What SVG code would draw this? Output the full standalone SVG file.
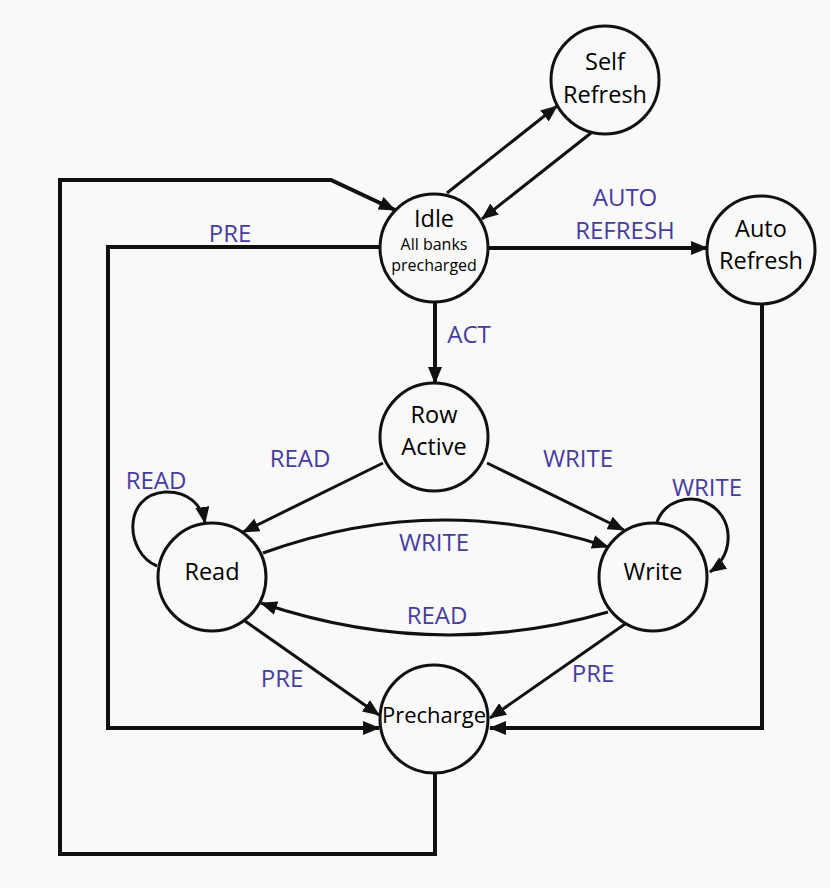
<svg xmlns="http://www.w3.org/2000/svg" width="830" height="888" viewBox="0 0 830 888">
<defs>
<marker id="ah" markerUnits="userSpaceOnUse" markerWidth="18" markerHeight="14" refX="16" refY="7" orient="auto">
<path d="M0,0 L17,7 L0,14 z" fill="#111"/>
</marker>
<style>
.bg{fill:#f9f9f9}
.node circle{fill:none;stroke:#111;stroke-width:3}
.nt{font-family:"Open Sans","Liberation Sans",sans-serif;font-size:23.5px;fill:#000;text-anchor:middle}
.st{font-family:"Open Sans","Liberation Sans",sans-serif;font-size:16px;fill:#000;text-anchor:middle}
.lb{font-family:"Open Sans","Liberation Sans",sans-serif;font-size:24px;fill:#463c9e;text-anchor:middle}
.e{fill:none;stroke:#111;stroke-width:3;marker-end:url(#ah)}
.o{fill:none;stroke:#111;stroke-width:4;stroke-linejoin:miter}
</style>
</defs>
<rect class="bg" width="830" height="888"/>
<g id="connectors">
<path class="e" d="M447,193 L557,106"/>
<path class="e" d="M591,133 L482,219"/>
<path class="o" style="marker-end:url(#ah)" d="M435,774 L435,854 L60,854 L60,180 L331,180 L395,210"/>
<path class="o" style="marker-end:url(#ah)" d="M380,247 L108,247 L108,728 L379,728"/>
<path class="o" style="marker-end:url(#ah)" d="M762,303 L762,728 L490,728"/>
<path class="o" style="marker-end:url(#ah)" d="M489,248 L707,248"/>
<path class="o" style="marker-end:url(#ah)" d="M435,302 L435,383"/>
<path class="e" d="M383,463 L243,532"/>
<path class="e" d="M487,463 L624,530"/>
<path class="e" d="M263,553 Q436,490 608,547"/>
<path class="e" d="M608,612 Q436,662 261,603"/>
<path class="e" d="M245,621 L379,715"/>
<path class="e" d="M625,624 L490,718"/>
<path class="e" d="M157,566 C125,553 122,495 165,492 C188,491 202,505 205,523"/>
<path class="e" d="M657,522 C665,500 690,495 705,502 C735,515 735,555 710,572"/>
</g>
<g id="labels">
<text class="lb" x="230" y="242">PRE</text>
<text class="lb" x="625" y="206">AUTO</text>
<text class="lb" x="625" y="239">REFRESH</text>
<text class="lb" x="469" y="343">ACT</text>
<text class="lb" x="300" y="467">READ</text>
<text class="lb" x="578" y="467">WRITE</text>
<text class="lb" x="156" y="489">READ</text>
<text class="lb" x="707" y="496">WRITE</text>
<text class="lb" x="434" y="551">WRITE</text>
<text class="lb" x="437" y="624">READ</text>
<text class="lb" x="282" y="687">PRE</text>
<text class="lb" x="593" y="682">PRE</text>
</g>
<g id="self-refresh" class="node"><circle cx="605" cy="80" r="54"/><text class="nt" x="605" y="70">Self</text><text class="nt" x="605" y="103">Refresh</text></g>
<g id="idle" class="node"><circle cx="434" cy="248" r="54"/><text class="nt" x="434" y="227">Idle</text><text class="st" x="434" y="250">All banks</text><text class="st" x="434" y="271">precharged</text></g>
<g id="auto-refresh" class="node"><circle cx="761" cy="250" r="54"/><text class="nt" x="761" y="237">Auto</text><text class="nt" x="761" y="269">Refresh</text></g>
<g id="row-active" class="node"><circle cx="434" cy="437" r="54"/><text class="nt" x="434" y="423">Row</text><text class="nt" x="434" y="455">Active</text></g>
<g id="read" class="node"><circle cx="212" cy="577" r="54"/><text class="nt" x="212" y="580">Read</text></g>
<g id="write" class="node"><circle cx="653" cy="577" r="54"/><text class="nt" x="653" y="580">Write</text></g>
<g id="precharge" class="node"><circle cx="434" cy="719" r="54"/><text class="nt" x="434" y="723" style="font-size:22px">Precharge</text></g>
</svg>
